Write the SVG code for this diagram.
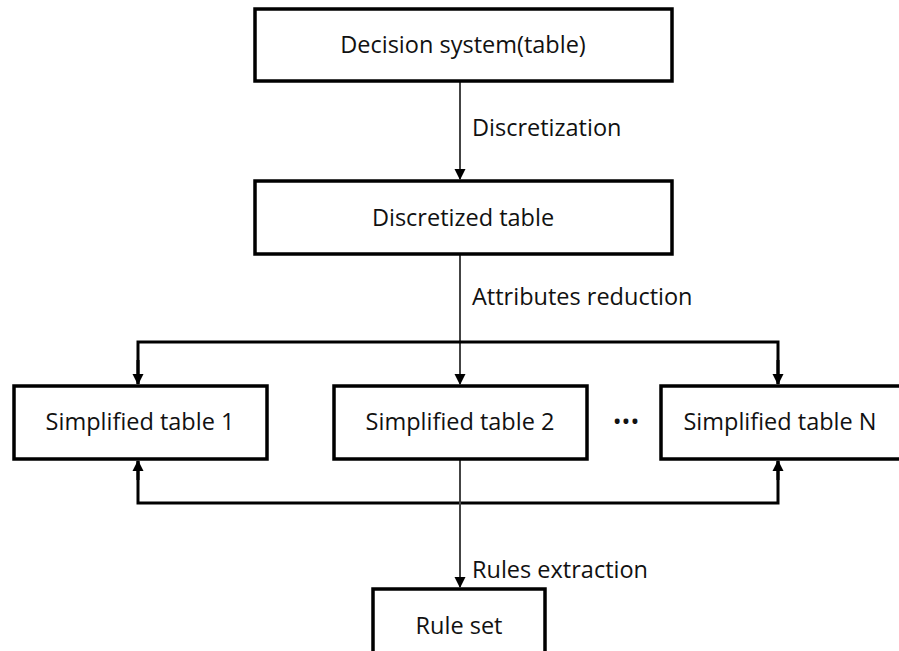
<svg xmlns="http://www.w3.org/2000/svg" width="899" height="651" viewBox="0 0 899 651">
<style>
.box{fill:#fff;stroke:#000;stroke-width:3.5}
.t{font-family:"Open Sans","Noto Sans",sans-serif;font-size:23.5px;fill:#111;text-anchor:middle}
.l{font-family:"Open Sans","Noto Sans",sans-serif;font-size:23.5px;fill:#111}
.c{fill:none;stroke:#000;stroke-width:3}
.v{fill:none;stroke:#444;stroke-width:2}
</style>
<defs>
<marker id="ah" markerUnits="userSpaceOnUse" markerWidth="12" markerHeight="12" viewBox="0 0 12 12" refX="10" refY="6" orient="auto">
<path d="M0,0.5 L11,6 L0,11.5 Z" fill="#000"/>
</marker>
</defs>
<rect width="899" height="651" fill="#fff"/>
<g id="connectors">
<line class="v" x1="460" y1="81" x2="460" y2="179" marker-end="url(#ah)"/>
<line class="v" x1="460" y1="255" x2="460" y2="384" marker-end="url(#ah)"/>
<polyline class="c" points="138,384 138,342 778,342 778,384" />
<line class="c" x1="138" y1="360" x2="138" y2="384" marker-end="url(#ah)"/>
<line class="c" x1="778" y1="360" x2="778" y2="384" marker-end="url(#ah)"/>
<polyline class="c" points="138,461 138,503 778,503 778,461"/>
<line class="c" x1="138" y1="480" x2="138" y2="461" marker-end="url(#ah)"/>
<line class="c" x1="778" y1="480" x2="778" y2="461" marker-end="url(#ah)"/>
<line class="v" x1="460" y1="460" x2="460" y2="587" marker-end="url(#ah)"/>
<text class="l" x="472" y="136">Discretization</text>
<text class="l" x="472" y="305">Attributes reduction</text>
<text class="l" x="472" y="578">Rules extraction</text>
</g>
<g id="n1"><rect class="box" x="255" y="9" width="417" height="72"/><text class="t" x="463" y="53">Decision system(table)</text></g>
<g id="n2"><rect class="box" x="255" y="181" width="417" height="73"/><text class="t" x="463" y="226">Discretized table</text></g>
<g id="s1"><rect class="box" x="14" y="386" width="253" height="73"/><text class="t" x="140" y="430">Simplified table 1</text></g>
<g id="s2"><rect class="box" x="334" y="386" width="253" height="73"/><text class="t" x="460" y="430">Simplified table 2</text></g>
<g id="dots"><text class="t" x="626" y="430">•••</text></g>
<g id="sN"><rect class="box" x="661" y="386" width="240" height="73"/><text class="t" x="780" y="430">Simplified table N</text></g>
<g id="r"><rect class="box" x="373" y="589" width="172" height="80"/><text class="t" x="459" y="634">Rule set</text></g>
</svg>
